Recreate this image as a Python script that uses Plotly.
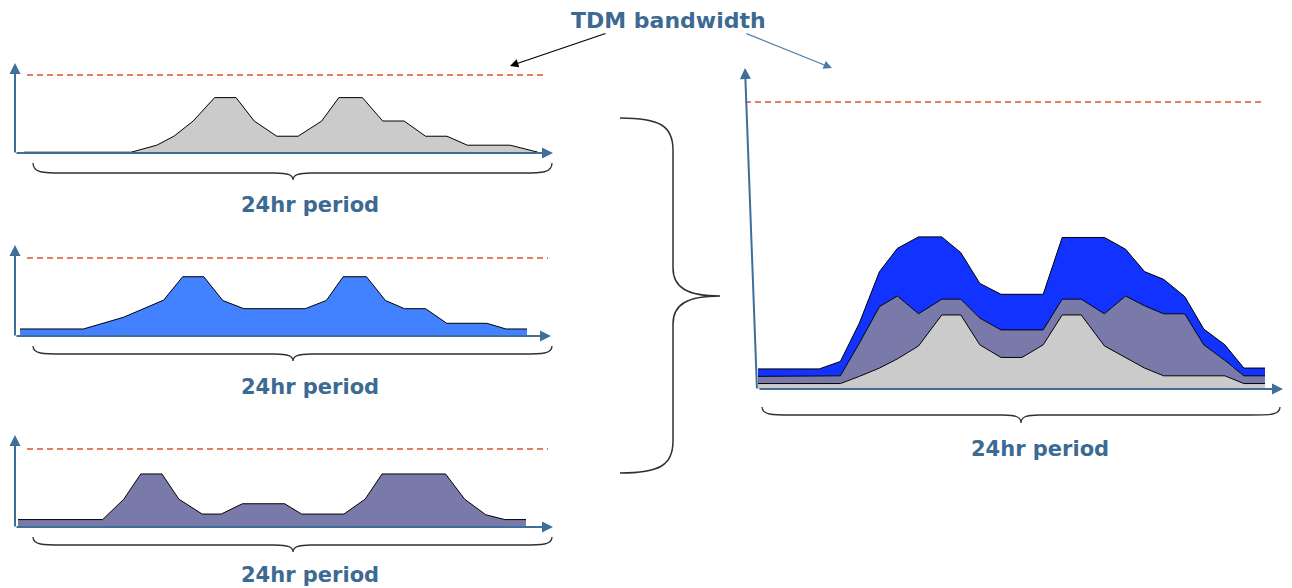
import plotly.graph_objects as go

W, H = 1292, 588

# ---------------- data (hours 0-24, % of TDM bandwidth) ----------------
CAPACITY = 100

gray_x = [0, 5.0, 6.2, 7.0, 7.9, 8.9, 9.9, 10.75, 11.8, 12.8, 13.9, 14.7, 15.8, 16.75, 17.75, 18.75, 19.75, 20.7, 22.7, 24]
gray_y = [1, 1, 10, 21.5, 41, 71, 71, 41, 21.5, 21.5, 41, 71, 71, 41, 41, 21.5, 21.5, 10, 10, 1]

blue_x = [0, 3.0, 4.9, 6.8, 7.7, 8.7, 9.6, 10.6, 13.5, 14.5, 15.3, 16.4, 17.3, 18.2, 19.2, 20.2, 22.1, 23.0, 24]
blue_y = [9, 9, 24, 46, 76, 76, 45.5, 35, 35, 45.5, 76, 76, 45.5, 35, 35, 16.3, 16.3, 9, 9]

purple_x = [0, 4.0, 5.0, 5.8, 6.8, 7.6, 8.7, 9.6, 10.6, 12.6, 13.4, 15.4, 16.4, 17.2, 20.2, 21.1, 22.1, 23.0, 24]
purple_y = [9.5, 9.5, 35.7, 68, 68, 35.7, 16.6, 16.6, 29.8, 29.8, 16.6, 16.6, 35.7, 68, 68, 35.7, 15.7, 9.5, 9.5]

# combined (right) chart: cumulative boundaries of the three layers
comb_x = [0, 2.9, 3.9, 4.8, 5.75, 6.6, 7.6, 8.7, 9.6, 10.5, 11.5, 12.5, 13.5, 14.4, 15.3, 16.4, 17.4, 18.3, 19.2, 20.2, 21.1, 22.1, 23.0, 24]
comb_gray = [1.9, 1.9, 1.9, 4.4, 7.3, 10.5, 15, 25.8, 25.8, 15.4, 11, 11, 15.4, 25.8, 25.8, 15, 11, 7.3, 4.6, 4.6, 4.6, 4.6, 1.9, 1.9]
comb_purple = [4.4, 4.4, 4.6, 16, 28.7, 32.4, 26.2, 31.3, 31.3, 24.7, 20.6, 20.6, 20.6, 31.3, 31.3, 26.2, 32.4, 29, 26.2, 26.2, 15.4, 10, 4.6, 4.6]
comb_blue = [7, 7, 9.6, 23, 40.9, 49, 53, 53, 47.5, 36.8, 33, 33, 33, 52.8, 52.8, 52.8, 48.7, 40.9, 38.2, 32.2, 20.9, 15.4, 7.3, 7.3]

PERIOD_LABEL = "24hr period"
TITLE_LABEL = "TDM bandwidth"

# ---------------- styles ----------------
C_GRAY = "#cbcbcb"
C_LBLUE = "#4281ff"
C_PURPLE = "#7a7aaa"
C_DBLUE = "#1232ff"
C_AXIS = "#3f6f98"
C_TEXT = "#3c6a92"
C_DASH = "#dc5530"
FONT = "DejaVu Sans"


def fx(px):
    return px / W


def fy(py):
    return 1 - py / H


fig = go.Figure()

# panel geometry in pixels: area x0, area x1, base, dashed, left(yaxis), right(x tip), top(y tip)
panels = [
    dict(ax0=24, ax1=538, base=153, dash=75, left=15, right=553, top=63, dx0=27, dx1=547),
    dict(ax0=20, ax1=527, base=336, dash=258, left=15, right=551, top=245, dx0=27, dx1=548),
    dict(ax0=18, ax1=526, base=527, dash=449, left=15, right=553, top=435, dx0=27, dx1=548),
    dict(ax0=758, ax1=1265, base=389, dash=102, left=745, right=1283, top=68, dx0=745, dx1=1265),
]

layout_axes = {}
for i, p in enumerate(panels):
    s = (p["ax1"] - p["ax0"]) / 24.0
    k = (p["base"] - p["dash"]) / 100.0
    xr = [-(p["ax0"] - p["left"]) / s, 24 + (p["right"] - p["ax1"]) / s]
    pad = 3
    yr = [-pad / k, (p["base"] - p["top"]) / k]
    sfx = "" if i == 0 else str(i + 1)
    layout_axes["xaxis" + sfx] = dict(domain=[fx(p["left"]), fx(p["right"])], range=xr, visible=False,
                                      anchor="y" + sfx, fixedrange=True)
    layout_axes["yaxis" + sfx] = dict(domain=[fy(p["base"] + pad), fy(p["top"])], range=yr, visible=False,
                                      anchor="x" + sfx, fixedrange=True)

line_style = dict(color="black", width=1)


def area(x, y, color, ax, fill="tozeroy"):
    return go.Scatter(x=x, y=y, mode="lines", fill=fill, fillcolor=color, line=line_style,
                      xaxis="x" + ax, yaxis="y" + ax, showlegend=False, hoverinfo="skip")


fig.add_trace(area(gray_x, gray_y, C_GRAY, ""))
fig.add_trace(area(blue_x, blue_y, C_LBLUE, "2"))
fig.add_trace(area(purple_x, purple_y, C_PURPLE, "3"))
fig.add_trace(area(comb_x, comb_gray, C_GRAY, "4"))
fig.add_trace(area(comb_x, comb_purple, C_PURPLE, "4", fill="tonexty"))
fig.add_trace(area(comb_x, comb_blue, C_DBLUE, "4", fill="tonexty"))

shapes = []
annotations = []

for i, p in enumerate(panels):
    sfx = "" if i == 0 else str(i + 1)
    # TDM bandwidth dashed line
    shapes.append(dict(type="line", xref="paper", yref="y" + sfx, x0=fx(p["dx0"]), x1=fx(p["dx1"]),
                       y0=CAPACITY, y1=CAPACITY, line=dict(color=C_DASH, width=1.4, dash="6px,4px")))
    # x axis arrow
    annotations.append(dict(x=fx(p["right"]), y=fy(p["base"]), xref="paper", yref="paper",
                            ax=(p["left"] if i < 3 else p["ax0"]) - p["right"], ay=0, axref="pixel", ayref="pixel",
                            text="", showarrow=True, arrowhead=2, arrowsize=1.1, arrowwidth=2, arrowcolor=C_AXIS))
    # y axis arrow (right panel slightly slanted)
    slant = 12 if i == 3 else 0
    annotations.append(dict(x=fx(p["left"]), y=fy(p["top"]), xref="paper", yref="paper",
                            ax=slant, ay=p["base"] - p["top"] + 1, axref="pixel", ayref="pixel",
                            text="", showarrow=True, arrowhead=2, arrowsize=1.1, arrowwidth=2, arrowcolor=C_AXIS))


def hbrace(x0, x1, y0, yl, tip_x, tip_y):
    pts = [
        f"M {fx(x0)},{fy(y0)}",
        f"C {fx(x0)},{fy(yl)} {fx(x0 + 10)},{fy(yl)} {fx(x0 + 30)},{fy(yl)}",
        f"L {fx(tip_x - 18)},{fy(yl)}",
        f"C {fx(tip_x - 5)},{fy(yl)} {fx(tip_x)},{fy(yl + 2)} {fx(tip_x)},{fy(tip_y)}",
        f"C {fx(tip_x)},{fy(yl + 2)} {fx(tip_x + 5)},{fy(yl)} {fx(tip_x + 18)},{fy(yl)}",
        f"L {fx(x1 - 30)},{fy(yl)}",
        f"C {fx(x1 - 10)},{fy(yl)} {fx(x1)},{fy(yl)} {fx(x1)},{fy(y0)}",
    ]
    return dict(type="path", xref="paper", yref="paper", path=" ".join(pts),
                line=dict(color="#303030", width=1.3))


shapes.append(hbrace(33, 552, 163, 173, 293, 180))
shapes.append(hbrace(33, 552, 346, 354, 293, 361))
shapes.append(hbrace(33, 552, 537, 545, 293, 552))
shapes.append(hbrace(762, 1280, 407, 415, 1021, 423))

# large vertical brace
bx0, spine, tipx = 620, 673, 720
yt, yb, ym = 118, 473, 296
vp = [
    f"M {fx(bx0)},{fy(yt)}",
    f"C {fx(bx0 + 40)},{fy(yt)} {fx(spine)},{fy(yt + 8)} {fx(spine)},{fy(yt + 32)}",
    f"L {fx(spine)},{fy(ym - 28)}",
    f"C {fx(spine)},{fy(ym - 8)} {fx(spine + 15)},{fy(ym)} {fx(tipx)},{fy(ym)}",
    f"C {fx(spine + 15)},{fy(ym)} {fx(spine)},{fy(ym + 8)} {fx(spine)},{fy(ym + 28)}",
    f"L {fx(spine)},{fy(yb - 32)}",
    f"C {fx(spine)},{fy(yb - 8)} {fx(bx0 + 40)},{fy(yb)} {fx(bx0)},{fy(yb)}",
]
shapes.append(dict(type="path", xref="paper", yref="paper", path=" ".join(vp),
                   line=dict(color="#303030", width=1.5)))

# labels
for (cx, cy) in [(310, 205), (310, 387), (310, 575), (1040, 449)]:
    annotations.append(dict(x=fx(cx), y=fy(cy), xref="paper", yref="paper", text=f"<b>{PERIOD_LABEL}</b>",
                            showarrow=False, font=dict(family=FONT, size=21, color=C_TEXT),
                            xanchor="center", yanchor="middle", borderpad=0))

annotations.append(dict(x=fx(668), y=fy(20), xref="paper", yref="paper", text=f"<b>{TITLE_LABEL}</b>",
                        showarrow=False, font=dict(family=FONT, size=22, color=C_TEXT),
                        xanchor="center", yanchor="middle"))
# pointer arrows from title
annotations.append(dict(x=fx(510), y=fy(66), xref="paper", yref="paper", ax=97, ay=-33,
                        axref="pixel", ayref="pixel", text="", showarrow=True,
                        arrowhead=2, arrowsize=1.4, arrowwidth=1.2, arrowcolor="black"))
annotations.append(dict(x=fx(832), y=fy(68), xref="paper", yref="paper", ax=-87, ay=-35,
                        axref="pixel", ayref="pixel", text="", showarrow=True,
                        arrowhead=2, arrowsize=1.4, arrowwidth=1.2, arrowcolor="#4a7aa8"))

fig.update_layout(
    width=W, height=H,
    margin=dict(l=0, r=0, t=0, b=0),
    paper_bgcolor="white", plot_bgcolor="white",
    showlegend=False,
    shapes=shapes, annotations=annotations,
    **layout_axes,
)

fig.write_html("out.html", config={"displayModeBar": False},
               post_script="document.body.style.margin='0px';document.body.style.overflow='hidden';")
